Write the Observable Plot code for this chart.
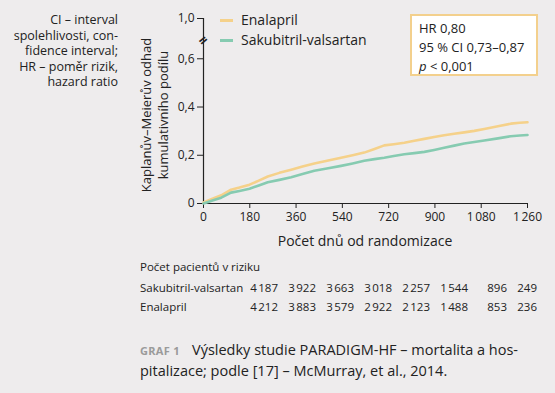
<!DOCTYPE html>
<html>
<head>
<meta charset="utf-8">
<script src="https://cdn.jsdelivr.net/npm/d3@7"></script>
<script src="https://cdn.jsdelivr.net/npm/@observablehq/plot@0.6"></script>
<style>
  html, body { margin: 0; padding: 0; background: #eeeced; }
  body { font-family: "Open Sans", "Noto Sans", sans-serif; color: #222; }
  #wrap { position: relative; width: 555px; height: 393px; overflow: hidden; background: #eeeced; }
  #chart { position: absolute; left: 0; top: 0; }
  .abs { position: absolute; white-space: nowrap; }
  #note { left: 0; top: 12px; width: 118px; text-align: right; font-size: 12.5px; line-height: 15.5px; white-space: normal; }
  #ylab { left: 155px; top: 115px; transform: translate(-50%, -50%) rotate(-90deg); text-align: center; font-size: 13px; line-height: 17px; }
  #xlab { left: 365px; top: 231px; transform: translateX(-50%); font-size: 14px; }
  #legend { left: 220px; top: 10px; font-size: 14px; line-height: 20px; }
  #legend .sw { display: inline-block; width: 13px; height: 2.5px; vertical-align: middle; margin-right: 8px; position: relative; top: -1px; }
  #hr { left: 410px; top: 14px; width: 128px; height: 62px; box-sizing: border-box; border: 2px solid #f3d08d; background: #fff; padding: 3px 0 0 7px; font-size: 13px; line-height: 19px; }
  #table { left: 140px; top: 259px; font-size: 11.5px; width: 410px; }
  #table .row { position: relative; height: 19.5px; }
  #table .num { position: absolute; text-align: right; width: 40px; top: 0; }
  .cap { font-size: 14.5px; line-height: 21px; }
  #cap1 { left: 192px; top: 339px; }
  #cap2 { left: 140px; top: 360px; }
  #graf { left: 140px; top: 344px; color: #9a9a9a; font-weight: bold; font-size: 11px; letter-spacing: 0.3px; line-height: 14px; }
</style>
</head>
<body>
<div id="wrap">
  <div id="chart"></div>
  <div id="note" class="abs">CI – interval spolehlivosti, con-<br>fidence interval;<br>HR – poměr rizik,<br>hazard ratio</div>
  <div id="ylab" class="abs">Kaplanův–Meierův odhad<br>kumulativního podílu</div>
  <div id="xlab" class="abs"></div>
  <div id="legend" class="abs"></div>
  <div id="hr" class="abs">HR 0,80<br>95 % CI 0,73–0,87<br><i>p</i> &lt; 0,001</div>
  <div id="table" class="abs"></div>
  <div id="graf" class="abs">GRAF 1</div>
  <div id="cap1" class="abs cap">Výsledky studie PARADIGM-HF – mortalita a hos-</div>
  <div id="cap2" class="abs cap">pitalizace; podle [17] – McMurray, et al., 2014.</div>
</div>
<script>
// ---- data ----
const seriesNames = ["Enalapril", "Sakubitril-valsartan"];
const seriesColors = ["#f5d18a", "#86cbb1"];
const days = [0, 35, 69, 107, 140, 179, 215, 250, 295, 341, 385, 431, 485, 535, 580, 625, 665, 703, 740, 781, 820, 859, 897, 936, 975, 1014, 1053, 1092, 1145, 1195, 1230, 1260];
const enalapril = [0.004, 0.020, 0.034, 0.057, 0.066, 0.078, 0.095, 0.112, 0.127, 0.140, 0.153, 0.166, 0.178, 0.190, 0.200, 0.211, 0.226, 0.241, 0.246, 0.252, 0.260, 0.268, 0.276, 0.283, 0.289, 0.295, 0.301, 0.309, 0.320, 0.331, 0.335, 0.337];
const sakubitril = [0.000, 0.012, 0.024, 0.045, 0.052, 0.061, 0.075, 0.088, 0.098, 0.109, 0.122, 0.136, 0.146, 0.156, 0.166, 0.177, 0.184, 0.190, 0.197, 0.204, 0.209, 0.214, 0.222, 0.231, 0.240, 0.249, 0.255, 0.261, 0.270, 0.279, 0.282, 0.284];
const xTicks = [0, 180, 360, 540, 720, 900, 1080, 1260];
const yTicks = [0, 0.2, 0.4, 0.6];
const yTickLabels = ["0", "0,2", "0,4", "0,6"];
const yTopLabel = "1,0";        // shown at the top of the broken axis
const yTopPos = 0.767;          // position of the 1,0 label on the broken axis
const yBreakPos = 0.675;        // position of the axis break mark
const xLabel = "Počet dnů od randomizace";
const riskTitle = "Počet pacientů v riziku";
const riskRows = ["Sakubitril-valsartan", "Enalapril"];
const riskSakubitril = ["4 187", "3 922", "3 663", "3 018", "2 257", "1 544", "896", "249"];
const riskEnalapril = ["4 212", "3 883", "3 579", "2 922", "2 123", "1 488", "853", "236"];

// ---- build ----
const data = [];
days.forEach((d, i) => {
  data.push({day: d, value: enalapril[i], series: seriesNames[0]});
  data.push({day: d, value: sakubitril[i], series: seriesNames[1]});
});
const fmtX = d => d >= 1000 ? String(d).replace(/(\d)(\d{3})$/, "$1\u202F$2") : String(d);
const allYTicks = yTicks.concat([yTopPos]);
const fmtY = v => v === yTopPos ? yTopLabel : yTickLabels[yTicks.indexOf(v)];

const chart = Plot.plot({
  width: 555, height: 255,
  marginLeft: 203, marginRight: 28, marginTop: 18, marginBottom: 52,
  style: {background: "transparent", fontFamily: "'Open Sans', sans-serif", fontSize: "12px", color: "#222", overflow: "visible"},
  x: {domain: [0, 1260], ticks: xTicks, tickFormat: fmtX, tickSize: 5, label: null},
  y: {domain: [0, yTopPos], ticks: allYTicks, tickFormat: fmtY, tickSize: 6, label: null},
  color: {domain: seriesNames, range: seriesColors},
  marks: [
    Plot.ruleY([0], {stroke: "#222", strokeWidth: 1.2}),
    Plot.ruleX([0], {y1: 0, y2: yTopPos, stroke: "#222", strokeWidth: 1.2}),
    Plot.line(data, {x: "day", y: "value", z: "series", stroke: "series", strokeWidth: 2.6, curve: "linear", sort: "day"}),
    Plot.text([yBreakPos], {x: 0, y: d => d, text: () => "=", rotate: -40, fontSize: 15, fontWeight: "bold", fill: "#222"})
  ]
});
document.getElementById("chart").appendChild(chart);

document.getElementById("xlab").textContent = xLabel;

const legend = document.getElementById("legend");
seriesNames.forEach((n, i) => {
  const row = document.createElement("div");
  const sw = document.createElement("span");
  sw.className = "sw"; sw.style.background = seriesColors[i];
  row.appendChild(sw);
  row.appendChild(document.createTextNode(n));
  legend.appendChild(row);
});

const table = document.getElementById("table");
const rightEdges = [138, 176, 214, 252, 290, 328, 367, 397];
const t = document.createElement("div"); t.className = "row"; t.textContent = riskTitle; t.style.marginBottom = "1px";
table.appendChild(t);
[riskSakubitril, riskEnalapril].forEach((vals, r) => {
  const row = document.createElement("div"); row.className = "row";
  const lab = document.createElement("span"); lab.textContent = riskRows[r];
  row.appendChild(lab);
  vals.forEach((v, i) => {
    const s = document.createElement("span"); s.className = "num";
    s.textContent = v.replace(" ", "\u202F");
    s.style.left = (rightEdges[i] - 40) + "px";
    row.appendChild(s);
  });
  table.appendChild(row);
});
</script>
</body>
</html>
